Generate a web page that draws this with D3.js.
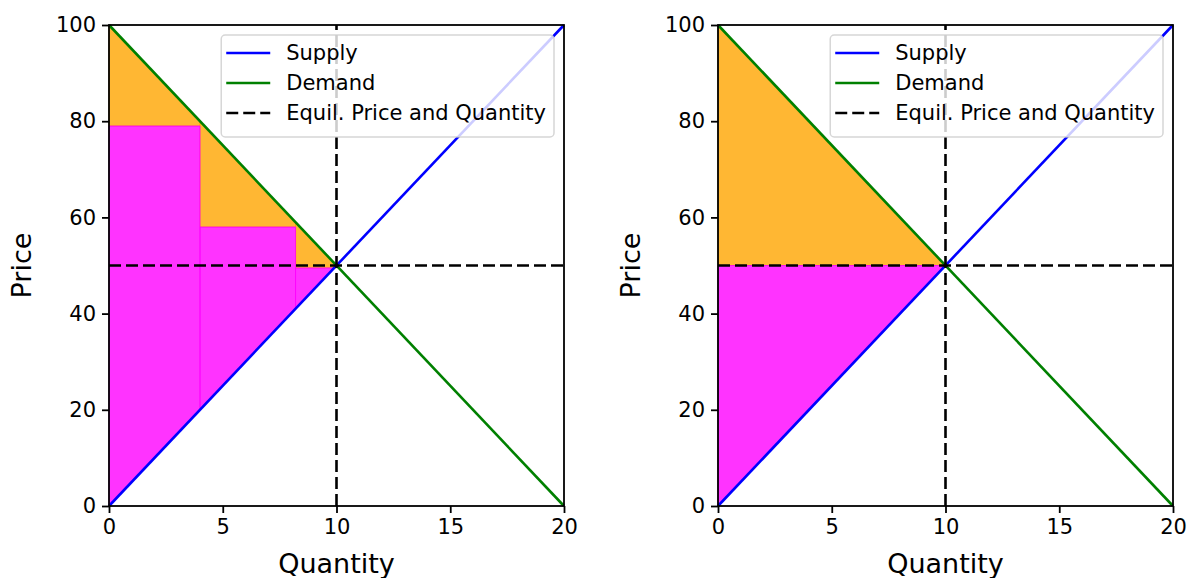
<!DOCTYPE html>
<html lang="en">
<head>
<meta charset="UTF-8">
<title>Supply and demand surplus</title>
<style>
    body { margin: 0; background: #fff; }
    svg text { font-family: "DejaVu Sans", sans-serif; fill: #000; }
</style>
</head>
<body>
<svg id="chart" width="1190" height="578"></svg>
<script src="https://d3js.org/d3.v7.min.js"></script>
<script>
// data
const quantityDomain = [0, 20];
const priceDomain = [0, 100];
const supplyQ = [0, 20];
const supplyP = [0, 100];
const demandQ = [0, 20];
const demandP = [100, 0];
const equilQ = 10;
const equilP = 50;
const xTicks = [0, 5, 10, 15, 20];
const yTicks = [0, 20, 40, 60, 80, 100];
// left panel: stepped approximation
const stepStart = [0, 4, 8.2];
const stepEnd = [4, 8.2, 10];
const stepPrice = [79, 58, 49.5];
// right panel: exact (one step at the equilibrium price)
const exactStart = [0];
const exactEnd = [10];
const exactPrice = [50];
const legendLabels = ["Supply", "Demand", "Equil. Price and Quantity"];

const svg = d3.select("#chart");
const plotW = 455, plotH = 481, plotTop = 25;
const panelLefts = [109, 718];
const lw = 2.6, dash = "12,5";

const supplyAt = d3.scaleLinear().domain(supplyQ).range(supplyP);
const supplyInv = d3.scaleLinear().domain(supplyP).range(supplyQ);
const demandAt = d3.scaleLinear().domain(demandQ).range(demandP);

function drawPanel(left, starts, ends, prices) {
    const g = svg.append("g").attr("transform", "translate(" + left + "," + plotTop + ")");
    const x = d3.scaleLinear().domain(quantityDomain).range([0, plotW]);
    const y = d3.scaleLinear().domain(priceDomain).range([plotH, 0]);
    const poly = pts => "M" + pts.map(p => x(p[0]) + "," + y(p[1])).join("L") + "Z";

    // consumer surplus (orange) between demand and the step price
    starts.forEach((a, i) => {
        const b = ends[i], p = prices[i];
        g.append("path")
            .attr("d", poly([[a, p], [a, demandAt(a)], [b, demandAt(b)], [b, p]]))
            .attr("fill", "orange").attr("fill-opacity", 0.8)
            .attr("stroke", "orange").attr("stroke-opacity", 0.8).attr("stroke-width", 1);
    });
    // producer surplus (magenta) between supply and the step price
    starts.forEach((a, i) => {
        const p = prices[i];
        const b = Math.min(ends[i], supplyInv(p));
        g.append("path")
            .attr("d", poly([[a, supplyAt(a)], [a, p], [b, p], [b, supplyAt(b)]]))
            .attr("fill", "magenta").attr("fill-opacity", 0.8)
            .attr("stroke", "magenta").attr("stroke-opacity", 0.8).attr("stroke-width", 1);
    });

    const line = d3.line().x(d => x(d[0])).y(d => y(d[1]));
    g.append("path").datum(d3.zip(supplyQ, supplyP)).attr("d", line)
        .attr("fill", "none").attr("stroke", "blue").attr("stroke-width", lw);
    g.append("path").datum(d3.zip(demandQ, demandP)).attr("d", line)
        .attr("fill", "none").attr("stroke", "green").attr("stroke-width", lw);
    g.append("path").datum([[quantityDomain[0], equilP], [quantityDomain[1], equilP]]).attr("d", line)
        .attr("fill", "none").attr("stroke", "#000").attr("stroke-width", lw).attr("stroke-dasharray", dash);
    g.append("path").datum([[equilQ, priceDomain[0]], [equilQ, priceDomain[1]]]).attr("d", line)
        .attr("fill", "none").attr("stroke", "#000").attr("stroke-width", lw).attr("stroke-dasharray", dash);

    // axes
    const xAxis = g.append("g").attr("transform", "translate(0," + plotH + ")")
        .call(d3.axisBottom(x).tickValues(xTicks).tickSize(7).tickPadding(6));
    const yAxis = g.append("g")
        .call(d3.axisLeft(y).tickValues(yTicks).tickSize(7).tickPadding(6));
    [xAxis, yAxis].forEach(a => {
        a.select(".domain").remove();
        a.selectAll(".tick line").attr("stroke", "#000").attr("stroke-width", 1.8);
        a.selectAll(".tick text").style("font-size", "21px").attr("fill", "#000");
    });
    g.append("rect").attr("width", plotW).attr("height", plotH)
        .attr("fill", "none").attr("stroke", "#000").attr("stroke-width", 1.8);

    g.append("text").attr("x", plotW / 2).attr("y", plotH + 67)
        .attr("text-anchor", "middle").style("font-size", "27px").text("Quantity");
    g.append("text").attr("transform", "translate(-78," + plotH / 2 + ") rotate(-90)")
        .attr("text-anchor", "middle").style("font-size", "27px").text("Price");

    // legend
    const leg = g.append("g");
    const box = leg.append("rect").attr("rx", 4).attr("ry", 4)
        .attr("fill", "#fff").attr("fill-opacity", 0.8)
        .attr("stroke", "#cccccc").attr("stroke-opacity", 0.8).attr("stroke-width", 1.5);
    const colors = ["blue", "green", "#000"];
    let maxLen = 0;
    legendLabels.forEach((lab, i) => {
        const cy = 18 + i * 30;
        leg.append("line").attr("x1", 5).attr("x2", 49).attr("y1", cy).attr("y2", cy)
            .attr("stroke", colors[i]).attr("stroke-width", lw)
            .attr("stroke-dasharray", i === 2 ? dash : null);
        const t = leg.append("text").attr("x", 65).attr("y", cy).attr("dy", "0.35em")
            .style("font-size", "21px").text(lab);
        maxLen = Math.max(maxLen, t.node().getComputedTextLength());
    });
    const boxW = 65 + maxLen + 8;
    box.attr("width", boxW).attr("height", 102);
    leg.attr("transform", "translate(" + (plotW - 10 - boxW) + ",10)");
}

drawPanel(panelLefts[0], stepStart, stepEnd, stepPrice);
drawPanel(panelLefts[1], exactStart, exactEnd, exactPrice);
</script>
</body>
</html>
